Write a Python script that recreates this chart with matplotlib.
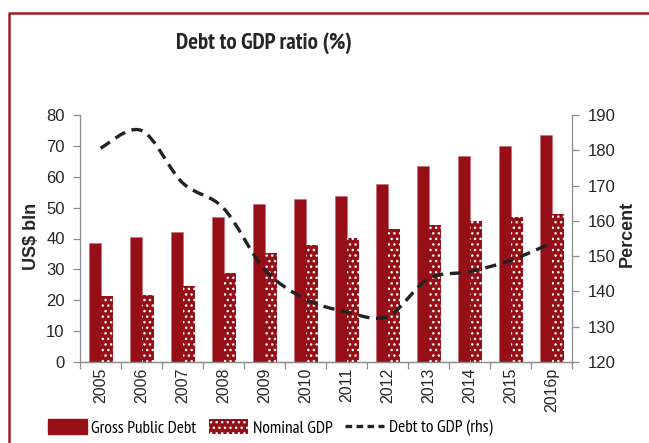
import numpy as np
import matplotlib
matplotlib.use("Agg")
from matplotlib import pyplot as plt
from matplotlib.path import Path
from matplotlib.patches import PathPatch, Patch
from matplotlib.lines import Line2D

years = ["2005", "2006", "2007", "2008", "2009", "2010",
         "2011", "2012", "2013", "2014", "2015", "2016p"]
gross_debt = [38.5, 40.5, 42.0, 47.0, 51.2, 52.7, 53.8, 57.8, 63.6, 66.7, 70.0, 73.6]
nominal_gdp = [21.3, 21.8, 24.6, 28.9, 35.2, 38.0, 40.1, 43.2, 44.5, 45.8, 47.0, 47.8]
debt_to_gdp = [180.6, 185.6, 170.8, 163.6, 146.3, 137.8, 134.2, 132.9, 143.6, 145.6, 148.8, 153.7]

red = "#960e16"
frame_red = "#a31b21"
axis_grey = "#8c8c8c"
text_col = "#262626"
narrow = ["PT Sans Narrow", "DejaVu Sans"]

plt.rcParams["font.family"] = ["Liberation Sans", "DejaVu Sans"]
plt.rcParams["hatch.linewidth"] = 1.0

fig = plt.figure(figsize=(6.49, 4.43), dpi=100)
ax = fig.add_axes([80 / 649, 1 - 362 / 443, 492 / 649, 247 / 443])
ax2 = ax.twinx()

x = np.arange(len(years))
w = 0.29
ax.bar(x - 0.135, gross_debt, w, color=red, edgecolor="#c46a6e", linewidth=0.4, zorder=2)
ax.bar(x + 0.155, nominal_gdp, w, color=red, edgecolor="white", linewidth=0,
       hatch="...", zorder=2)
ax.set_ylim(0, 80)
ax.set_xlim(-0.5, len(years) - 0.5)
ax.set_yticks(range(0, 81, 10))

# smoothed line, Excel style (bezier through the points)
y = np.array(debt_to_gdp)
verts = [(x[0], y[0])]
codes = [Path.MOVETO]
n = len(x)
for i in range(n - 1):
    p0 = np.array([x[max(i - 1, 0)], y[max(i - 1, 0)]])
    p1 = np.array([x[i], y[i]])
    p2 = np.array([x[i + 1], y[i + 1]])
    p3 = np.array([x[min(i + 2, n - 1)], y[min(i + 2, n - 1)]])
    c1 = p1 + (p2 - p0) / 6
    c2 = p2 - (p3 - p1) / 6
    verts += [tuple(c1), tuple(c2), tuple(p2)]
    codes += [Path.CURVE4] * 3
ax2.add_patch(PathPatch(Path(verts, codes), fill=False, edgecolor="#222222",
                        linewidth=2.4, linestyle=(0, (3.4, 2.0)), capstyle="butt", zorder=3))
ax2.set_ylim(120, 190)
ax2.set_yticks(range(120, 191, 10))

for a in (ax, ax2):
    a.spines["top"].set_visible(False)
    for s in a.spines.values():
        s.set_color(axis_grey)
        s.set_linewidth(0.9)
ax.spines["right"].set_visible(False)
ax2.spines["left"].set_visible(False)

ax.set_xticks(np.arange(-0.5, len(years), 1.0), minor=False)
ax.set_xticklabels([])
ax.set_xticks(x, minor=True)
ax.set_xticklabels(years, minor=True, rotation=90, fontsize=11.5, color=text_col)
ax.tick_params(axis="x", which="major", length=5, color=axis_grey, width=0.9)
ax.tick_params(axis="x", which="minor", length=0, pad=4)
ax.tick_params(axis="y", length=5, color=axis_grey, width=0.9, labelsize=12,
               labelcolor=text_col, pad=6)
ax2.tick_params(axis="y", length=5, color=axis_grey, width=0.9, labelsize=12,
                labelcolor=text_col, pad=6)

fig.text(31 / 649, 1 - 236 / 443, "US$ bln", rotation=90, fontsize=13, fontweight="bold",
         color=text_col, ha="center", va="center")
fig.text(627 / 649, 1 - 234 / 443, "Percent", rotation=90, fontsize=13, fontweight="bold",
         color=text_col, ha="center", va="center")
fig.text(264 / 649, 1 - 43 / 443, "Debt to GDP ratio (%)", fontsize=16.5, fontweight="bold",
         family=narrow, color=text_col, ha="center", va="center")

handles = [Patch(facecolor=red, edgecolor=red),
           Patch(facecolor=red, edgecolor="white", hatch="...", linewidth=0),
           Line2D([], [], color="#222222", linewidth=2.4, linestyle=(0, (2.0, 1.3)))]
labels = ["Gross Public Debt", "Nominal GDP", "Debt to GDP (rhs)"]
fig.legend(handles, labels, loc="center", bbox_to_anchor=(270 / 649, 1 - 428 / 443),
           ncol=3, frameon=False, handlelength=2.25, handleheight=0.9,
           handletextpad=0.25, columnspacing=0.75,
           prop={"family": narrow, "size": 12.5})

# frame round the exhibit
fig.add_artist(Line2D([8.5 / 649, 8.5 / 649, 1.0], [0.0, 1 - 12.7 / 443, 1 - 12.7 / 443],
                      color=frame_red, linewidth=1.8, transform=fig.transFigure))

fig.savefig("out.png", dpi=100)
